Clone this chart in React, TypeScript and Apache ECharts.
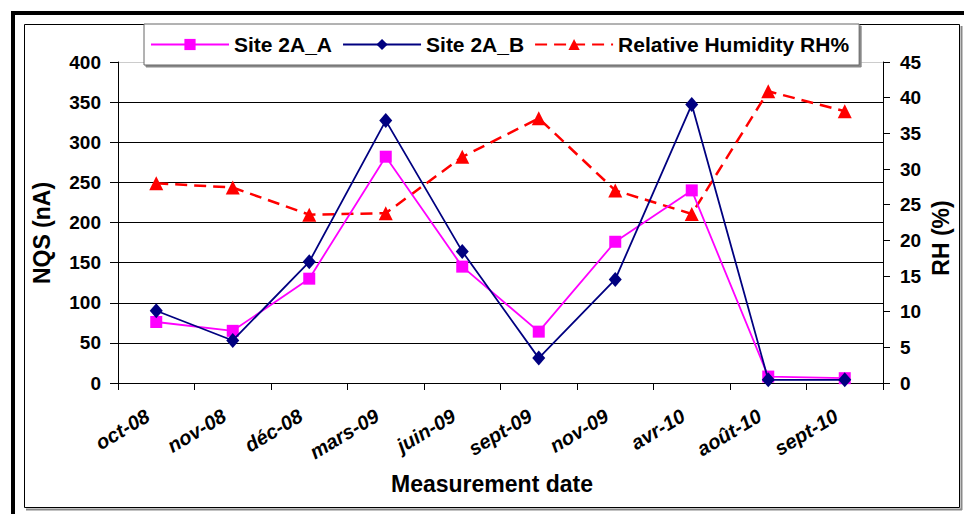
import React, { useEffect, useRef } from 'react';
import * as echarts from 'echarts';

const categories = ['oct-08', 'nov-08', 'déc-08', 'mars-09', 'juin-09', 'sept-09', 'nov-09', 'avr-10', 'août-10', 'sept-10'];
const siteA = [76, 65, 130, 282, 145, 64, 176, 240, 8, 6];
const siteB = [90, 53, 151, 327, 164, 31, 129, 347, 4, 4];
const rh = [28, 27.4, 23.6, 23.8, 31.7, 37.1, 27.0, 23.7, 40.9, 38.1];

const leftTicks = { min: 0, max: 400, interval: 50 };
const rightTicks = { min: 0, max: 45, interval: 5 };

const FONT = '"Liberation Sans", Arial, sans-serif';

export default function App() {
  const ref = useRef<HTMLDivElement>(null);
  useEffect(() => {
    if (!ref.current) return;
    const chart = echarts.init(ref.current, undefined, { renderer: 'svg' });
    const gridColors = ['#000', '#000', '#000', '#000', '#000', '#000', '#000', '#000', '#ccc'];
    chart.setOption({
      animation: false,
      backgroundColor: '#fff',
      textStyle: { fontFamily: FONT, color: '#000' },
      grid: { left: 118, right: 81, top: 62, bottom: 131, containLabel: false },
      legend: {
        left: 144,
        top: 24,
        padding: [10, 10, 10, 6],
        itemWidth: 78,
        itemHeight: 14,
        itemGap: 10,
        backgroundColor: '#fff',
        borderColor: '#666',
        borderWidth: 1,
        shadowColor: '#888',
        shadowOffsetX: 2,
        shadowOffsetY: 2,
        shadowBlur: 0,
        textStyle: { fontFamily: FONT, fontSize: 21, fontWeight: 'bold', color: '#000' },
        data: ['Site 2A_A', 'Site 2A_B', 'Relative Humidity RH%'],
      },
      xAxis: {
        type: 'category',
        data: categories,
        boundaryGap: true,
        axisLine: { lineStyle: { color: '#000', width: 1 } },
        axisTick: { show: true, length: 7, lineStyle: { color: '#000' } },
        axisLabel: {
          interval: 0,
          rotate: 31,
          margin: 26,
          padding: [0, 10, 0, 0],
          fontFamily: FONT,
          fontSize: 20,
          fontStyle: 'italic',
          fontWeight: 'bold',
          color: '#000',
        },
      },
      yAxis: [
        {
          type: 'value',
          ...leftTicks,
          position: 'left',
          axisLine: { show: true, lineStyle: { color: '#000' } },
          axisTick: { show: true, length: 8, lineStyle: { color: '#000' } },
          axisLabel: { margin: 17, fontFamily: FONT, fontSize: 19, fontWeight: 'bold', color: '#000' },
          splitLine: { show: true, lineStyle: { color: gridColors, width: 1 } },
        },
        {
          type: 'value',
          ...rightTicks,
          position: 'right',
          axisLine: { show: true, lineStyle: { color: '#000' } },
          axisTick: { show: true, length: 7, lineStyle: { color: '#000' } },
          axisLabel: { margin: 17, fontFamily: FONT, fontSize: 19, fontWeight: 'bold', color: '#000' },
          splitLine: { show: false },
        },
      ],
      series: [
        {
          name: 'Site 2A_A',
          type: 'line',
          data: siteA,
          symbol: 'rect',
          symbolSize: 12,
          lineStyle: { color: '#FF00FF', width: 1.8 },
          itemStyle: { color: '#FF00FF' },
          z: 3,
        },
        {
          name: 'Site 2A_B',
          type: 'line',
          data: siteB,
          symbol: 'diamond',
          symbolSize: [13, 15],
          lineStyle: { color: '#000080', width: 1.8 },
          itemStyle: { color: '#000080' },
          z: 4,
        },
        {
          name: 'Relative Humidity RH%',
          type: 'line',
          yAxisIndex: 1,
          data: rh,
          symbol: 'triangle',
          symbolSize: 14,
          lineStyle: { color: '#FF0000', width: 2.5, type: [12, 7] },
          itemStyle: { color: '#FF0000' },
          z: 2,
        },
      ],
      graphic: [
        {
          type: 'rect',
          z: -10,
          shape: { x: 13, y: 13, width: 1000, height: 600 },
          style: { fill: 'none', stroke: '#000', lineWidth: 4 },
        },
        {
          type: 'line',
          z: -10,
          shape: { x1: 961.5, y1: 26, x2: 961.5, y2: 510 },
          style: { stroke: '#888', lineWidth: 2 },
        },
        {
          type: 'line',
          z: -10,
          shape: { x1: 26, y1: 509.5, x2: 962, y2: 509.5 },
          style: { stroke: '#888', lineWidth: 2 },
        },
        {
          type: 'rect',
          z: -9,
          shape: { x: 24.5, y: 24.5, width: 935, height: 483 },
          style: { fill: 'none', stroke: '#000', lineWidth: 1 },
        },
        {
          type: 'text',
          x: 42,
          y: 233,
          rotation: Math.PI / 2,
          style: {
            text: 'NQS (nA)',
            fontFamily: FONT,
            fontSize: 23,
            fontWeight: 'bold',
            fill: '#000',
            align: 'center',
            verticalAlign: 'middle',
          },
        },
        {
          type: 'text',
          x: 941,
          y: 238,
          rotation: Math.PI / 2,
          style: {
            text: 'RH (%)',
            fontFamily: FONT,
            fontSize: 23,
            fontWeight: 'bold',
            fill: '#000',
            align: 'center',
            verticalAlign: 'middle',
          },
        },
        {
          type: 'text',
          x: 492,
          y: 484,
          style: {
            text: 'Measurement date',
            fontFamily: FONT,
            fontSize: 23,
            fontWeight: 'bold',
            fill: '#000',
            align: 'center',
            verticalAlign: 'middle',
          },
        },
      ],
    });
    return () => chart.dispose();
  }, []);
  return (
    <div
      ref={ref}
      style={{ position: 'fixed', left: 0, top: 0, width: 964, height: 514, background: '#fff' }}
    />
  );
}
